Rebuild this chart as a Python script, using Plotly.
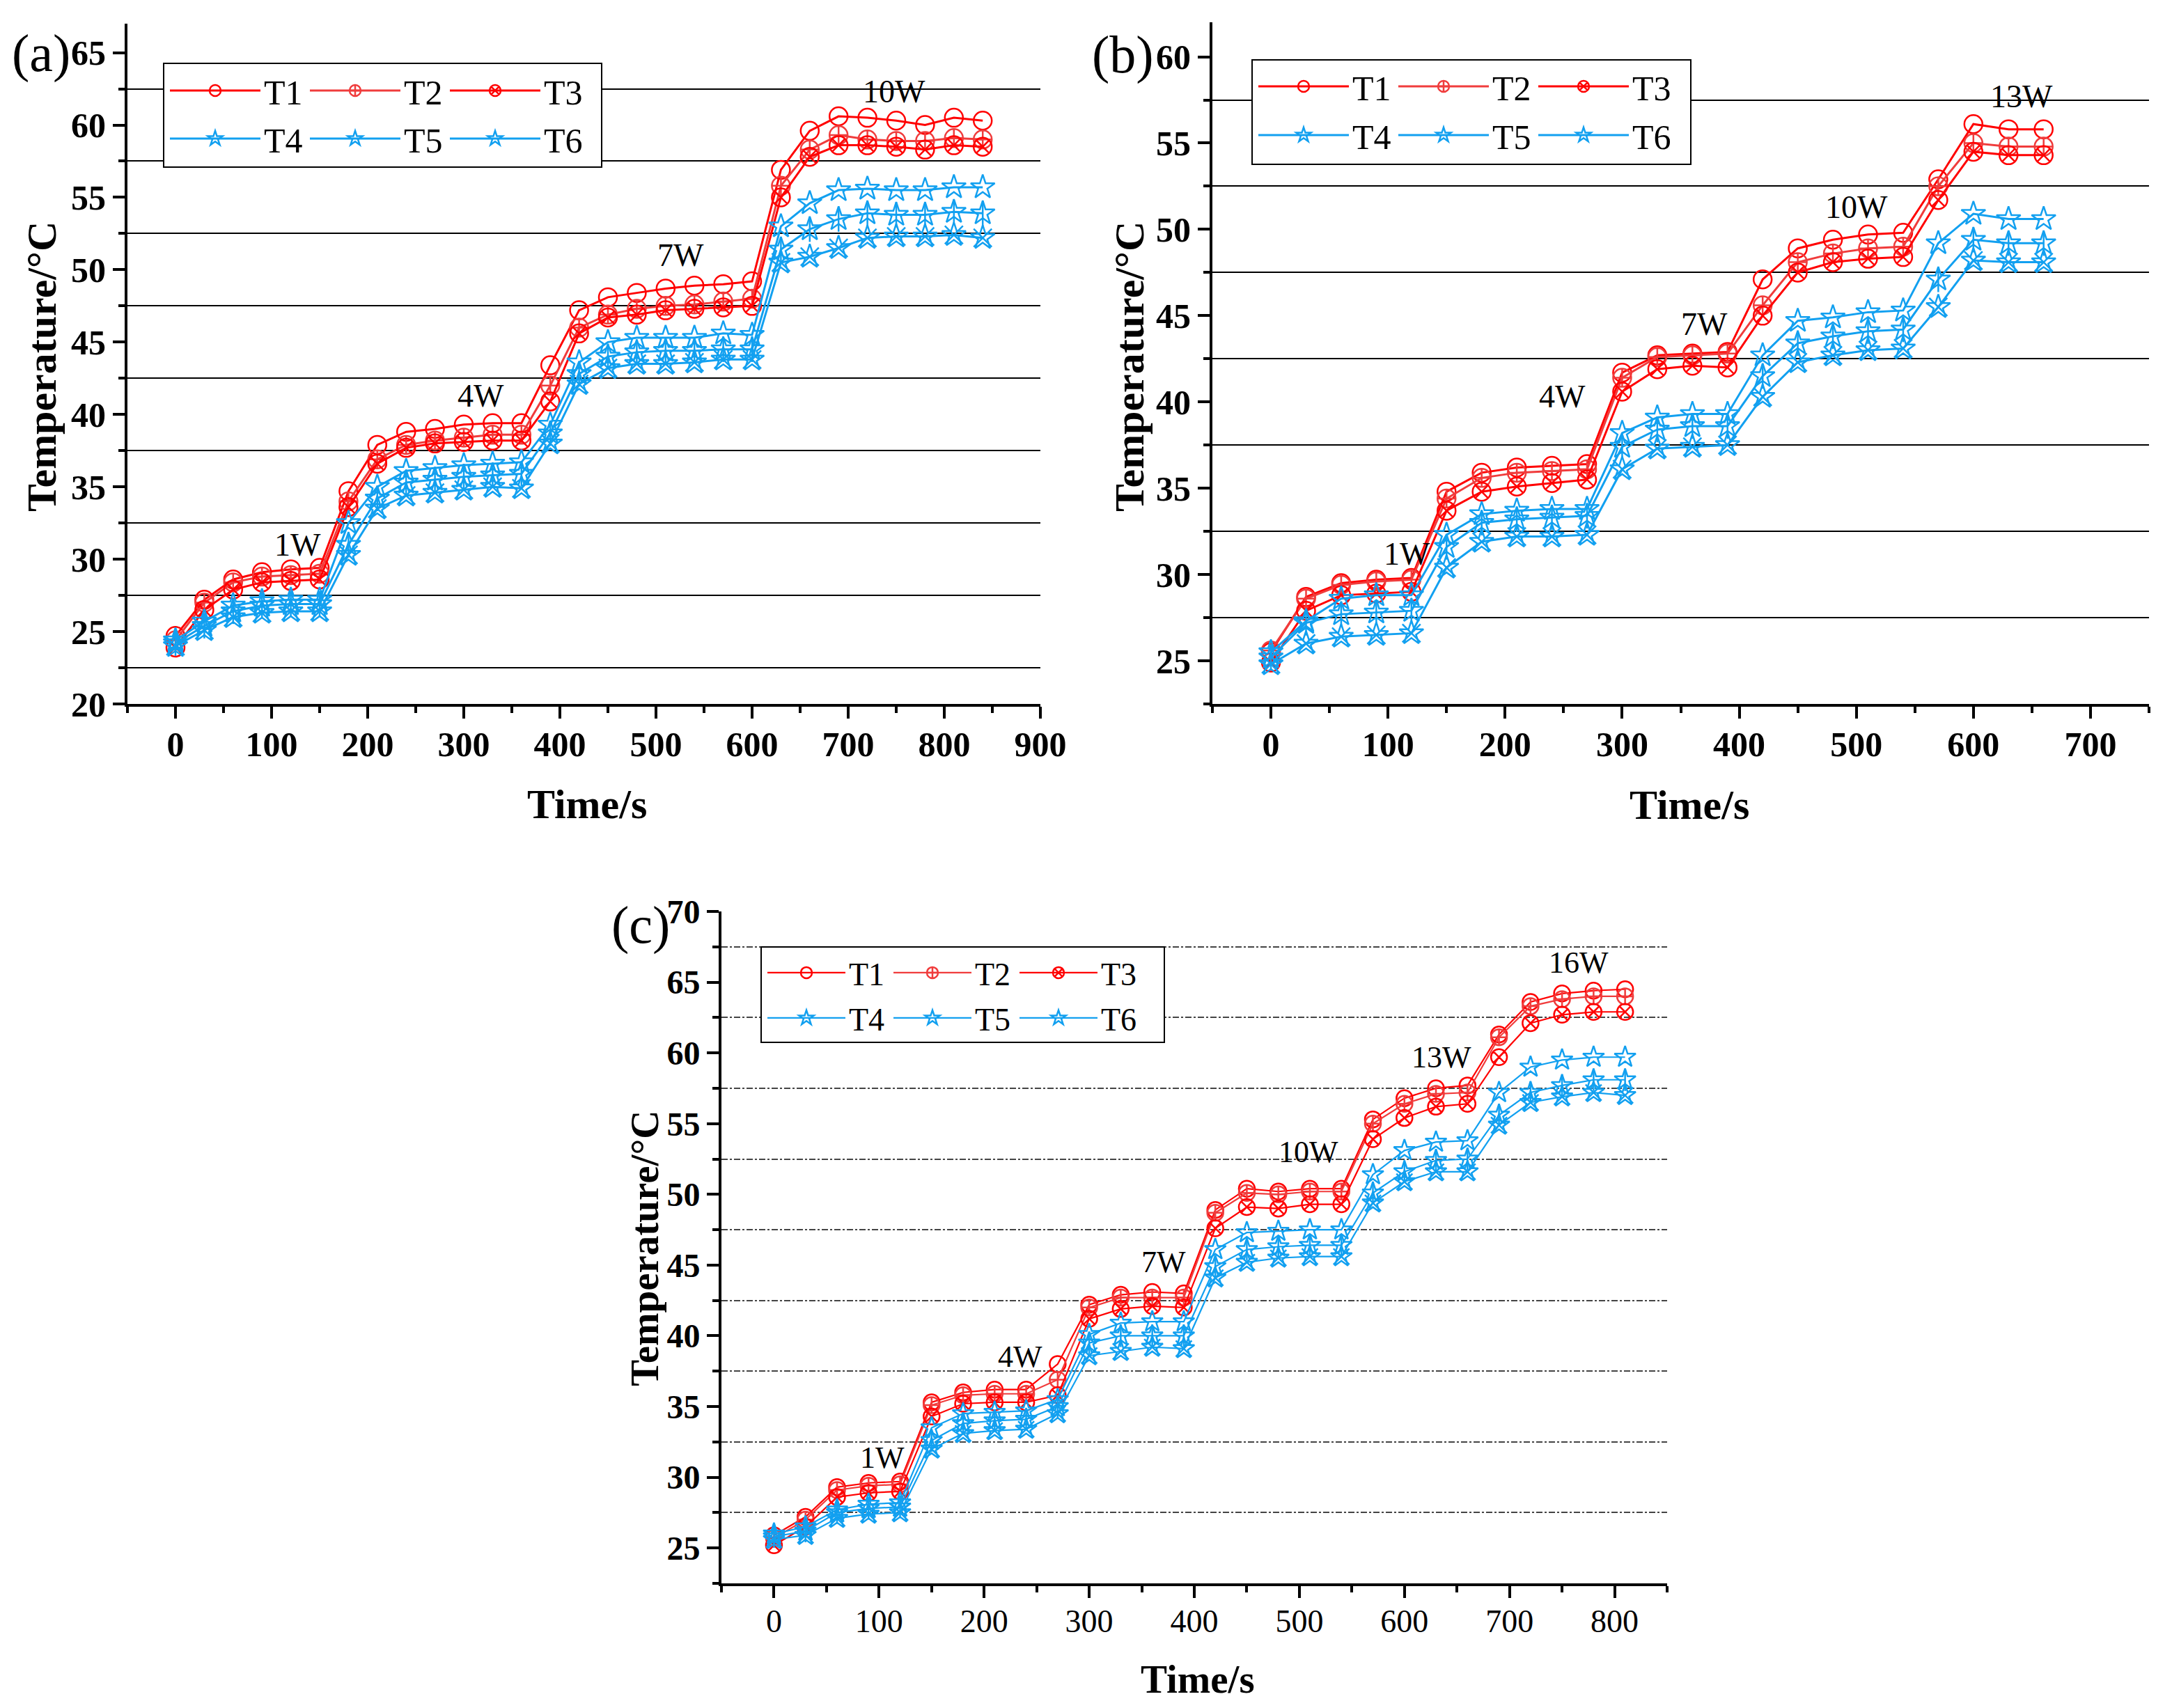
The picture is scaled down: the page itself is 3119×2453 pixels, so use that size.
import plotly.graph_objects as go

# ---------------- data ----------------
series_names = ["T1", "T2", "T3", "T4", "T5", "T6"]

time_a = [0, 30, 60, 90, 120, 150, 180, 210, 240, 270, 300, 330, 360, 390, 420,
          450, 480, 510, 540, 570, 600, 630, 660, 690, 720, 750, 780, 810, 840]
a_T1 = [24.7, 27.2, 28.6, 29.1, 29.3, 29.4, 34.7, 37.9, 38.8, 39.0, 39.3, 39.4, 39.4, 43.4, 47.2,
        48.1, 48.4, 48.7, 48.9, 49.0, 49.2, 56.9, 59.6, 60.6, 60.5, 60.3, 60.0, 60.5, 60.3]
a_T2 = [24.4, 27.0, 28.4, 28.8, 28.9, 29.0, 34.0, 36.9, 37.9, 38.2, 38.4, 38.6, 38.6, 42.0, 46.0,
        46.9, 47.3, 47.5, 47.6, 47.8, 48.0, 55.8, 58.3, 59.3, 59.0, 58.9, 58.9, 59.1, 59.0]
a_T3 = [23.9, 26.5, 27.9, 28.4, 28.5, 28.6, 33.6, 36.6, 37.7, 38.0, 38.1, 38.2, 38.2, 40.9, 45.6,
        46.7, 46.9, 47.2, 47.3, 47.4, 47.5, 55.0, 57.8, 58.6, 58.6, 58.5, 58.3, 58.6, 58.5]
a_T4 = [24.4, 25.7, 26.8, 27.1, 27.2, 27.2, 32.5, 35.0, 36.1, 36.3, 36.5, 36.6, 36.7, 39.3, 43.6,
        45.0, 45.3, 45.3, 45.3, 45.6, 45.5, 53.0, 54.6, 55.5, 55.6, 55.5, 55.5, 55.7, 55.7]
a_T5 = [24.2, 25.4, 26.4, 26.8, 26.9, 26.9, 31.0, 34.2, 35.3, 35.5, 35.7, 35.8, 35.9, 38.7, 42.8,
        44.0, 44.3, 44.4, 44.4, 44.5, 44.5, 51.4, 52.8, 53.5, 53.9, 53.8, 53.8, 54.0, 53.9]
a_T6 = [24.0, 25.1, 26.0, 26.3, 26.4, 26.4, 30.3, 33.5, 34.4, 34.6, 34.8, 35.0, 34.9, 38.0, 42.1,
        43.2, 43.5, 43.5, 43.6, 43.8, 43.8, 50.5, 50.9, 51.5, 52.2, 52.3, 52.3, 52.4, 52.2]

time_b = [0, 30, 60, 90, 120, 150, 180, 210, 240, 270, 300, 330, 360, 390, 420,
          450, 480, 510, 540, 570, 600, 630, 660]
b_T1 = [25.5, 28.7, 29.5, 29.7, 29.8, 34.8, 35.9, 36.2, 36.3, 36.4, 41.7, 42.7, 42.8, 42.9, 47.1,
        48.9, 49.4, 49.7, 49.8, 52.9, 56.1, 55.8, 55.8]
b_T2 = [25.6, 28.6, 29.4, 29.6, 29.7, 34.4, 35.6, 35.9, 36.0, 36.1, 41.4, 42.6, 42.7, 42.8, 45.6,
        48.1, 48.6, 48.9, 49.0, 52.5, 55.0, 54.8, 54.8]
b_T3 = [24.9, 27.9, 28.8, 28.9, 29.0, 33.7, 34.8, 35.1, 35.3, 35.5, 40.6, 41.9, 42.1, 42.0, 45.0,
        47.5, 48.1, 48.3, 48.4, 51.7, 54.5, 54.3, 54.3]
b_T4 = [25.5, 27.3, 28.6, 28.8, 28.8, 32.3, 33.5, 33.7, 33.8, 33.8, 38.2, 39.1, 39.3, 39.3, 42.7,
        44.7, 44.9, 45.2, 45.3, 49.2, 50.9, 50.6, 50.6]
b_T5 = [25.2, 27.2, 27.7, 27.8, 27.9, 31.6, 33.0, 33.2, 33.3, 33.4, 37.4, 38.4, 38.6, 38.6, 41.5,
        43.4, 43.8, 44.1, 44.2, 47.1, 49.4, 49.2, 49.2]
b_T6 = [24.8, 26.0, 26.4, 26.5, 26.6, 30.4, 31.9, 32.2, 32.2, 32.3, 36.1, 37.3, 37.4, 37.5, 40.3,
        42.3, 42.7, 43.0, 43.1, 45.5, 48.2, 48.1, 48.1]

time_c = [0, 30, 60, 90, 120, 150, 180, 210, 240, 270, 300, 330, 360, 390, 420,
          450, 480, 510, 540, 570, 600, 630, 660, 690, 720, 750, 780, 810]
c_T1 = [25.9, 27.2, 29.3, 29.6, 29.7, 35.3, 36.0, 36.2, 36.2, 38.0, 42.2, 42.9, 43.1, 43.0, 48.9,
        50.4, 50.2, 50.4, 50.4, 55.3, 56.8, 57.5, 57.7, 61.3, 63.6, 64.2, 64.4, 64.5]
c_T2 = [25.7, 27.0, 29.1, 29.4, 29.5, 35.1, 35.8, 35.9, 35.9, 36.9, 42.0, 42.7, 42.7, 42.7, 48.7,
        50.1, 50.0, 50.2, 50.2, 55.0, 56.4, 57.1, 57.2, 61.1, 63.3, 63.8, 64.0, 64.0]
c_T3 = [25.2, 26.5, 28.6, 28.9, 29.0, 34.3, 35.2, 35.3, 35.3, 35.8, 41.2, 41.9, 42.1, 42.0, 47.6,
        49.1, 49.0, 49.3, 49.3, 53.9, 55.4, 56.2, 56.4, 59.7, 62.1, 62.7, 62.9, 62.9]
c_T4 = [26.0, 26.5, 27.7, 28.1, 28.2, 33.5, 34.5, 34.6, 34.7, 35.5, 40.1, 40.9, 41.0, 41.0, 46.1,
        47.3, 47.4, 47.5, 47.5, 51.4, 53.1, 53.7, 53.8, 57.2, 59.0, 59.5, 59.7, 59.7]
c_T5 = [25.8, 26.2, 27.5, 27.8, 27.9, 32.6, 33.8, 34.0, 34.1, 35.0, 39.5, 40.0, 40.0, 40.0, 44.9,
        46.1, 46.3, 46.4, 46.4, 50.1, 51.6, 52.4, 52.5, 55.6, 57.2, 57.7, 58.1, 58.1]
c_T6 = [25.6, 25.9, 27.1, 27.4, 27.5, 32.0, 33.1, 33.3, 33.4, 34.5, 38.6, 38.9, 39.2, 39.1, 44.1,
        45.2, 45.5, 45.6, 45.6, 49.4, 50.9, 51.6, 51.6, 54.9, 56.5, 56.9, 57.2, 57.0]

# power-step labels
power_a = ["1W", "4W", "7W", "10W"]
power_a_x = [127, 318, 526, 748]
power_a_y = [31.0, 41.3, 51.0, 62.3]
power_b = ["1W", "4W", "7W", "10W", "13W"]
power_b_x = [116, 249, 370, 500, 641]
power_b_y = [31.2, 40.3, 44.5, 51.3, 57.7]
power_c = ["1W", "4W", "7W", "10W", "13W", "16W"]
power_c_x = [103, 234, 371, 509, 635, 766]
power_c_y = [31.4, 38.5, 45.2, 53.0, 59.7, 66.4]

# ---------------- style ----------------
W, H = 3119, 2453          # target picture size
OFF = 8                    # default page margin of the html body
FW, FH = W - 2 * OFF, H - 2 * OFF
SERIF = "Liberation Serif, Times New Roman, serif"
RED, RED2, BLUE = "#FF0000", "#F03C3C", "#12A0F0"
colors = [RED, RED2, RED, BLUE, BLUE, BLUE]
symbols = ["circle-open", "circle-cross-open", "circle-x-open",
           "star-open", "star-open", "star-open"]
overlay_symbols = [None, None, None, None, "line-ns-open", "x-thin-open"]


def fx(v):
    return (v - OFF) / FW


def fy(v):
    return 1 - (v - OFF) / FH


panels = [
    dict(t=time_a, vals=[a_T1, a_T2, a_T3, a_T4, a_T5, a_T6],
         xdom=[183, 1494], ytop=34, ybot=1011, xr=[-50, 900], yr=[20, 67],
         legends=("legend", "legend2"), box=(235, 91, 864, 240), rows=(130, 199),
         lw=3, msize=26, tickbold_x=True, xtickfs=50, ytickfs=50,
         griddash="solid", gridcolor="#000000",
         label="(a)", label_xy=(59, 76), ytitle_xy=(60, 527),
         xtitle_xy=(843, 1155), xtitle_anchor="middle", titlefs=60,
         power=(power_a, power_a_x, power_a_y), powerfs=46, legfs=50, itemw=130, entryw=56),
    dict(t=time_b, vals=[b_T1, b_T2, b_T3, b_T4, b_T5, b_T6],
         xdom=[1741, 3086], ytop=32, ybot=1011, xr=[-50, 750], yr=[22.5, 62],
         legends=("legend3", "legend4"), box=(1798, 86, 2428, 236), rows=(124, 194),
         lw=3, msize=26, tickbold_x=True, xtickfs=50, ytickfs=50,
         griddash="solid", gridcolor="#000000",
         label="(b)", label_xy=(1612, 78), ytitle_xy=(1622, 527),
         xtitle_xy=(2426, 1156), xtitle_anchor="middle", titlefs=60,
         power=(power_b, power_b_x, power_b_y), powerfs=46, legfs=50, itemw=130, entryw=56),
    dict(t=time_c, vals=[c_T1, c_T2, c_T3, c_T4, c_T5, c_T6],
         xdom=[1036, 2394], ytop=1309, ybot=2274, xr=[-50, 850], yr=[22.5, 70],
         legends=("legend5", "legend6"), box=(1093, 1360, 1672, 1497), rows=(1397, 1462),
         lw=2.2, msize=23, tickbold_x=False, xtickfs=46, ytickfs=48,
         griddash="dashdot", gridcolor="#444444",
         label="(c)", label_xy=(920, 1328), ytitle_xy=(926, 1793),
         xtitle_xy=(1720, H - OFF), xtitle_anchor="bottom", titlefs=57,
         power=(power_c, power_c_x, power_c_y), powerfs=44, legfs=46, itemw=112, entryw=54),
]

fig = go.Figure()
layout = dict(width=FW, height=FH, margin=dict(l=0, r=0, t=0, b=0, pad=0, autoexpand=False),
              template="none",
              paper_bgcolor="white", plot_bgcolor="white", showlegend=True,
              font=dict(family=SERIF, color="black"))
annotations = []
shapes = []

for i, p in enumerate(panels):
    n = i + 1
    sfx = "" if n == 1 else str(n)
    xa, ya = "x" + sfx, "y" + sfx
    for k, name in enumerate(series_names):
        leg = p["legends"][0] if k < 3 else p["legends"][1]
        fig.add_trace(go.Scatter(
            x=p["t"], y=p["vals"][k], name=name, mode="lines+markers",
            xaxis=xa, yaxis=ya, legend=leg,
            line=dict(color=colors[k], width=p["lw"]),
            marker=dict(symbol=symbols[k], size=p["msize"], color=colors[k],
                        line=dict(color=colors[k], width=2.5)),
        ))
        if overlay_symbols[k]:
            fig.add_trace(go.Scatter(
                x=p["t"], y=p["vals"][k], mode="markers", showlegend=False,
                xaxis=xa, yaxis=ya, hoverinfo="skip",
                marker=dict(symbol=overlay_symbols[k], size=p["msize"], color=colors[k],
                            line=dict(color=colors[k], width=2.5)),
            ))

    xdom = [fx(p["xdom"][0]), fx(p["xdom"][1])]
    ydom = [fy(p["ybot"]), fy(p["ytop"])]
    bold = "bold" if p["tickbold_x"] else "normal"
    common_x = dict(range=p["xr"], showgrid=False, zeroline=False, showline=True,
                    linecolor="black", linewidth=4, tick0=0, dtick=100,
                    tickwidth=4, tickcolor="black", automargin=False)
    layout["xaxis" + sfx] = dict(
        domain=xdom, anchor=ya, ticks="outside", ticklen=17, ticklabelstandoff=-6,
        tickfont=dict(family=SERIF, size=p["xtickfs"], color="black", weight=bold),
        minor=dict(ticks="outside", ticklen=9, tickwidth=4, dtick=50, tick0=0, tickcolor="black"),
        **common_x)
    layout["yaxis" + sfx] = dict(
        domain=ydom, anchor=xa, range=p["yr"], showline=True, linecolor="black", linewidth=4,
        ticks="outside", ticklen=17, tickwidth=4, tickcolor="black", tick0=0, dtick=5,
        showgrid=False, zeroline=False, automargin=False,
        tickfont=dict(family=SERIF, size=p["ytickfs"], color="black", weight="bold"),
        minor=dict(ticks="outside", ticklen=9, tickwidth=4, dtick=5, tick0=2.5, tickcolor="black",
                   showgrid=True, gridcolor=p["gridcolor"], gridwidth=1.5, griddash=p["griddash"]))
    # mirrored axes (top / right) with inward ticks
    on = str(n + 3)
    layout["xaxis" + on] = dict(
        overlaying=xa, anchor=ya, side="top", ticks="inside", ticklen=19,
        showticklabels=False,
        minor=dict(ticks="inside", ticklen=9, tickwidth=4, dtick=50, tick0=0, tickcolor="black"),
        **common_x)
    layout["yaxis" + on] = dict(
        overlaying=ya, anchor=xa, side="right", range=p["yr"], showline=True, linecolor="black",
        linewidth=4, ticks="inside", ticklen=17, tickwidth=4, tickcolor="black", tick0=0, dtick=5,
        showgrid=False, zeroline=False, showticklabels=False, automargin=False,
        minor=dict(ticks="inside", ticklen=9, tickwidth=4, dtick=5, tick0=2.5, tickcolor="black"))

    # legend box and two legend rows
    bx0, by0, bx1, by1 = p["box"]
    shapes.append(dict(type="rect", xref="paper", yref="paper", layer="above",
                       x0=fx(bx0), x1=fx(bx1), y0=fy(by1), y1=fy(by0),
                       line=dict(color="black", width=2), fillcolor="white"))
    for r, lname in enumerate(p["legends"]):
        layout[lname] = dict(
            orientation="h", x=fx(bx0 + 4), y=fy(p["rows"][r]),
            xanchor="left", yanchor="middle", bgcolor="rgba(0,0,0,0)", borderwidth=0,
            font=dict(family=SERIF, size=p["legfs"], color="black"),
            itemwidth=p["itemw"], entrywidth=p["entryw"], entrywidthmode="pixels",
            tracegroupgap=0, itemclick=False)

    # texts
    annotations.append(dict(text=p["label"], xref="paper", yref="paper",
                            x=fx(p["label_xy"][0]), y=fy(p["label_xy"][1]),
                            showarrow=False, xanchor="center", yanchor="middle",
                            font=dict(family=SERIF, size=76, color="black")))
    annotations.append(dict(text="Temperature/°C", xref="paper", yref="paper", textangle=-90,
                            x=fx(p["ytitle_xy"][0]), y=fy(p["ytitle_xy"][1]),
                            showarrow=False, xanchor="center", yanchor="middle",
                            font=dict(family=SERIF, size=p["titlefs"], color="black", weight="bold")))
    annotations.append(dict(text="Time/s", xref="paper", yref="paper",
                            x=fx(p["xtitle_xy"][0]), y=fy(p["xtitle_xy"][1]),
                            showarrow=False, xanchor="center", yanchor=p["xtitle_anchor"],
                            font=dict(family=SERIF, size=p["titlefs"], color="black", weight="bold")))
    labels, lx, ly = p["power"]
    for txt, xv, yv in zip(labels, lx, ly):
        annotations.append(dict(text=txt, xref=xa, yref=ya, x=xv, y=yv, showarrow=False,
                                xanchor="center", yanchor="middle",
                                font=dict(family=SERIF, size=p["powerfs"], color="black")))

layout["annotations"] = annotations
layout["shapes"] = shapes
fig.update_layout(**layout)
fig.write_html("out.html")
